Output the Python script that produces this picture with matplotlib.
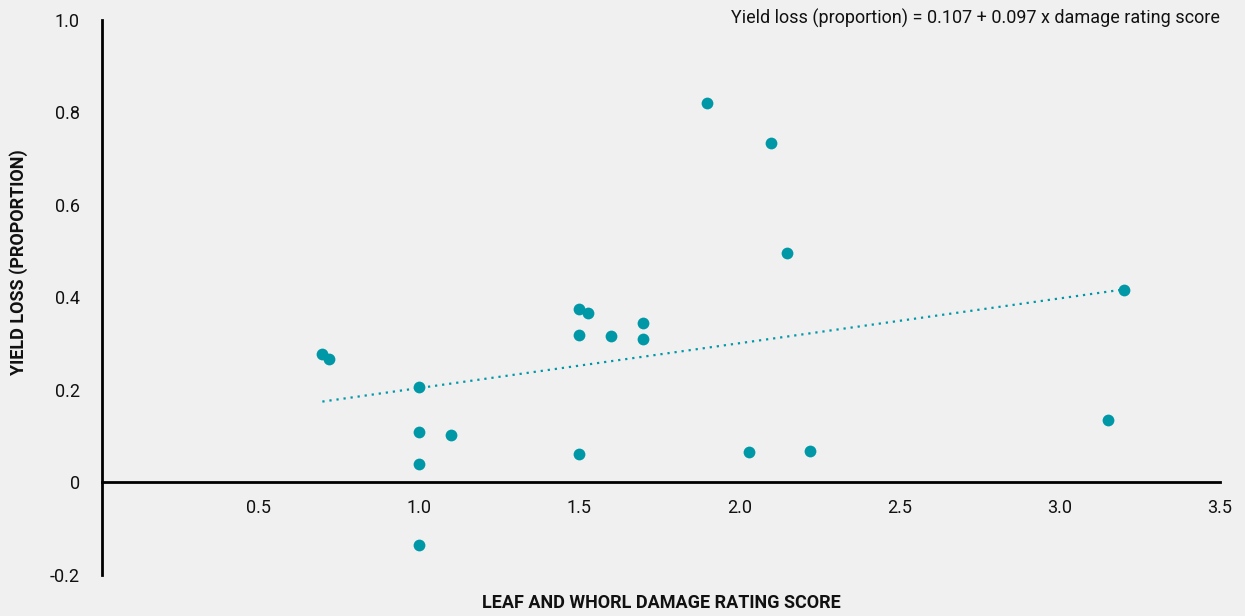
import matplotlib.pyplot as plt
import numpy as np

plt.rcParams['font.family'] = ['Roboto', 'DejaVu Sans']

damage = [0.70, 0.72, 1.0, 1.0, 1.0, 1.0, 1.1, 1.5, 1.5, 1.53, 1.6, 1.7, 1.7, 1.5,
          1.9, 2.1, 2.15, 2.03, 2.22, 3.15, 3.2]
loss = [0.277, 0.268, 0.206, 0.110, 0.041, -0.136, 0.102, 0.374, 0.318, 0.366, 0.316,
        0.344, 0.310, 0.061, 0.820, 0.734, 0.496, 0.065, 0.069, 0.134, 0.416]
intercept = 0.107
slope = 0.097
xticks = [0.5, 1.0, 1.5, 2.0, 2.5, 3.0, 3.5]
yticks = [-0.2, 0, 0.2, 0.4, 0.6, 0.8, 1.0]
ytick_labels = ['-0.2', '0', '0.2', '0.4', '0.6', '0.8', '1.0']

bg = '#f0f0f0'
teal = '#0097a7'

fig = plt.figure(figsize=(12.45, 6.16), dpi=100, facecolor=bg)
ax = fig.add_axes([0.082, 0.0666, 0.898, 0.901], facecolor=bg)

ax.scatter(damage, loss, s=72, color=teal, zorder=3, linewidths=0)
x = np.linspace(min(damage), max(damage), 50)
ax.plot(x, intercept + slope * x, color=teal, linestyle=(0, (1, 2.2)), linewidth=1.6)

ax.set_xlim(0.013, 3.5)
ax.set_ylim(-0.2, 1.0)
for s in ['top', 'right']:
    ax.spines[s].set_visible(False)
ax.spines['bottom'].set_position(('data', 0))
ax.spines['bottom'].set_linewidth(2)
ax.spines['left'].set_linewidth(2)

ax.set_xticks(xticks)
ax.set_xticklabels([f'{t:.1f}' for t in xticks])
ax.set_yticks(yticks)
ax.set_yticklabels(ytick_labels)
ax.tick_params(length=0, labelsize=13, colors='#111111')
ax.tick_params(axis='x', pad=12)
ax.tick_params(axis='y', pad=16)

fig.text(0.015, 0.575, 'YIELD LOSS (PROPORTION)', rotation=90, va='center', ha='center',
         fontsize=13, fontweight='bold', color='#111111')
fig.text(0.531, 0.021, 'LEAF AND WHORL DAMAGE RATING SCORE', va='center', ha='center',
         fontsize=13, fontweight='bold', color='#111111')
fig.text(0.98, 0.97, 'Yield loss (proportion) = 0.107 + 0.097 x damage rating score',
         ha='right', va='center', fontsize=13, color='#111111')

fig.savefig('out.png', dpi=100, facecolor=bg)
